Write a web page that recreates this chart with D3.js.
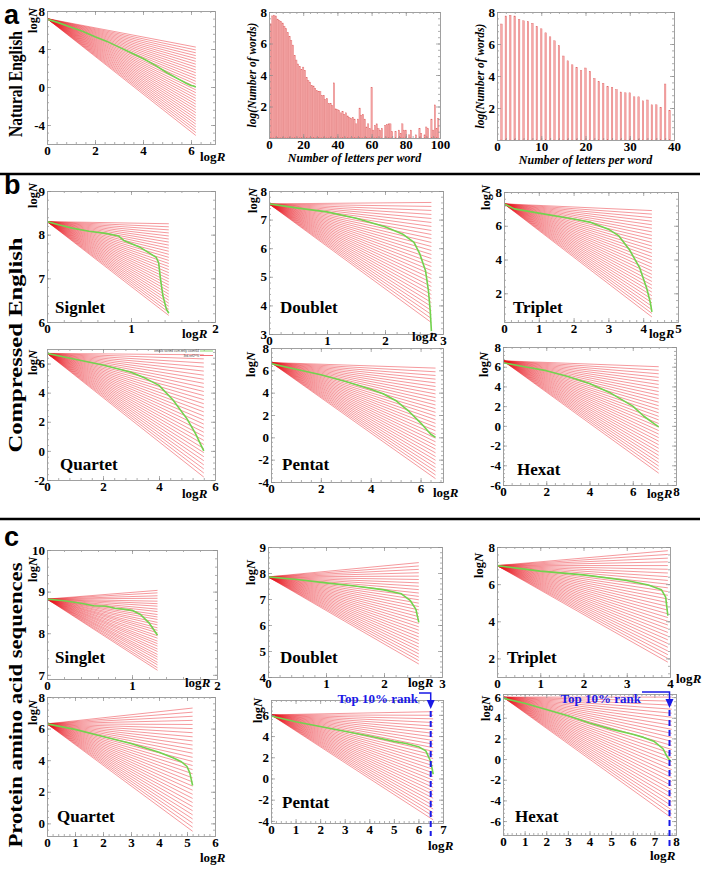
<!DOCTYPE html>
<html><head><meta charset="utf-8">
<script src="https://cdn.jsdelivr.net/npm/d3@7"></script>
<style>body{margin:0;background:#fff}svg{display:block}</style>
</head><body><svg id="c" width="704" height="872"></svg>
<script>
// ---------------- DATA ----------------
// histogram: log(number of words) for word lengths 1..100
const wordLengths = d3.range(1, 101);
const logWordCounts = [7.25,7.75,7.8,7.75,7.55,7.45,7.4,7.3,7.1,6.95,6.7,6.45,6.2,5.9,5.25,4.95,4.7,4.55,4.35,4.5,
  4.3,3.85,3.65,3.55,3.35,3.3,3.15,3.0,2.95,2.95,2.7,2.7,2.45,2.5,2.2,2.2,2.05,3.5,1.85,1.8,
  1.75,1.6,1.7,1.5,1.6,1.4,1.3,1.25,1.3,1.2,0.9,1.2,1.9,1.45,1.5,1.2,0.7,0.9,0.6,3.2,
  0.5,0.8,0.9,0.6,0.5,0.6,0,0.8,0.85,0.9,0.9,0.4,0,0.4,0,0.5,0.3,0.9,0.5,0.5,
  0,0.2,0.5,0,0,0.2,0,0.6,0.3,0,0.2,0.7,0.6,0,1.2,0.5,2.1,0.6,1.25,0];
const histTicksX100 = [0,20,40,60,80,100];
const histTicksX40 = [0,10,20,30,40];
const histTicksY = [2,4,6,8];

// fan endpoints (logN at the last rank) for each rank-frequency panel
const fanNatural = [4.2,3.9,3.6,3.3,3.0,2.7,2.4,2.1,1.8,1.5,1.2,0.9,0.6,0.3,0,-0.3,-0.6,-0.9,-1.2,-1.5,-1.8,-2.1,-2.4,-2.7,-3.0,-3.3,-3.6,-3.9,-4.2,-4.5,-4.8,-5.1];
const fanBSinglet = [8.25,8.18,8.11,8.04,7.97,7.90,7.83,7.76,7.69,7.62,7.55,7.48,7.41,7.34,7.27,7.20,7.13,7.06,6.99,6.92,6.85,6.78,6.71,6.64,6.57,6.50,6.43,6.36,6.29,6.22,6.15];
const fanBDoublet = [7.6,7.46,7.32,7.18,7.04,6.9,6.76,6.62,6.48,6.34,6.2,6.06,5.92,5.78,5.64,5.5,5.36,5.22,5.08,4.94,4.8,4.66,4.52,4.38,4.24,4.1,3.96,3.82,3.68,3.54,3.4];
const fanBTriplet = [6.9,6.69,6.48,6.27,6.06,5.85,5.64,5.43,5.22,5.01,4.8,4.59,4.38,4.17,3.96,3.75,3.54,3.33,3.12,2.91,2.7,2.49,2.28,2.07,1.86,1.65,1.44,1.23,1.02,0.81,0.6];
const fanBQuartet = [6.6,6.32,6.04,5.76,5.48,5.2,4.92,4.64,4.36,4.08,3.8,3.52,3.24,2.96,2.68,2.4,2.12,1.84,1.56,1.28,1.0,0.72,0.44,0.16,-0.12,-0.4,-0.68,-0.96,-1.24,-1.52,-1.8];
const fanBPentat = [6.2,5.87,5.54,5.21,4.88,4.55,4.22,3.89,3.56,3.23,2.9,2.57,2.24,1.91,1.58,1.25,0.92,0.59,0.26,-0.07,-0.4,-0.73,-1.06,-1.39,-1.72,-2.05,-2.38,-2.71,-3.04,-3.37,-3.7];
const fanBHexat = [6.0,5.64,5.28,4.92,4.56,4.2,3.84,3.48,3.12,2.76,2.4,2.04,1.68,1.32,0.96,0.6,0.24,-0.12,-0.48,-0.84,-1.2,-1.56,-1.92,-2.28,-2.64,-3.0,-3.36,-3.72,-4.08,-4.44,-4.8];
const fanCSinglet = [9.03,8.97,8.9,8.84,8.77,8.71,8.65,8.58,8.52,8.45,8.39,8.33,8.26,8.2,8.13,8.07,8.01,7.94,7.88,7.81,7.75,7.69,7.62,7.56,7.49,7.43,7.37,7.3,7.24,7.17,7.11];
const fanCDoublet = [8.4,8.27,8.14,8.01,7.88,7.75,7.62,7.49,7.36,7.23,7.1,6.97,6.84,6.71,6.58,6.45,6.32,6.19,6.06,5.93,5.8,5.67,5.54,5.41,5.28,5.15,5.02,4.89,4.76,4.63,4.5];
const fanCTriplet = [7.8,7.6,7.4,7.2,7.0,6.8,6.6,6.4,6.2,6.0,5.8,5.6,5.4,5.2,5.0,4.8,4.6,4.4,4.2,4.0,3.8,3.6,3.4,3.2,3.0,2.8,2.6,2.4,2.2,2.0,1.8];
const fanCQuartet = [7.3,7.04,6.78,6.52,6.26,6.0,5.74,5.48,5.22,4.96,4.7,4.44,4.18,3.92,3.66,3.4,3.14,2.88,2.62,2.36,2.1,1.84,1.58,1.32,1.06,0.8,0.54,0.28,0.02,-0.24,-0.5];
const fanCPentat = [6.3,5.96,5.62,5.28,4.94,4.6,4.26,3.92,3.58,3.24,2.9,2.56,2.22,1.88,1.54,1.2,0.86,0.52,0.18,-0.16,-0.5,-0.84,-1.18,-1.52,-1.86,-2.2,-2.54,-2.88,-3.22,-3.56,-3.9];
const fanCHexat = [6.0,5.61,5.22,4.83,4.44,4.05,3.66,3.27,2.88,2.49,2.1,1.71,1.32,0.93,0.54,0.15,-0.24,-0.63,-1.02,-1.41,-1.8,-2.19,-2.58,-2.97,-3.36,-3.75,-4.14,-4.53,-4.92,-5.31,-5.7];

// measured rank-frequency curves [logR, logN]
const curveNatural = [[0,7.15],[0.5,6.75],[1,6.3],[1.5,5.85],[2,5.3],[2.5,4.8],[3,4.2],[3.5,3.6],[4,3.0],[4.5,2.3],[5,1.5],[5.5,0.8],[5.8,0.4],[6.0,0.15],[6.1,0.1],[6.2,0]];
const curveBSinglet = [[0,8.3],[0.15,8.22],[0.3,8.15],[0.5,8.08],[0.7,8.03],[0.85,7.97],[0.92,7.86],[1.0,7.8],[1.1,7.72],[1.2,7.6],[1.3,7.48],[1.33,7.35],[1.35,7.0],[1.38,6.6],[1.42,6.3],[1.45,6.2]];
const curveBDoublet = [[0,7.55],[0.5,7.4],[1,7.27],[1.5,7.05],[2,6.75],[2.3,6.5],[2.5,6.2],[2.6,5.8],[2.7,5.2],[2.75,4.5],[2.78,3.8],[2.8,3.1]];
const curveBTriplet = [[0,7.3],[0.3,7.0],[1,6.75],[2,6.4],[2.5,6.2],[3,5.8],[3.3,5.4],[3.6,4.6],[3.9,3.5],[4.1,2.3],[4.2,1.5],[4.25,0.9]];
const curveBQuartet = [[0,6.7],[1,6.3],[2,5.9],[3,5.4],[3.5,5.0],[4,4.5],[4.5,3.5],[5,2.2],[5.3,1.2],[5.5,0.4],[5.6,0.0]];
const curveBPentat = [[0,6.6],[1,6.1],[2,5.6],[3,5.0],[4,4.3],[4.5,3.9],[5,3.3],[5.5,2.4],[6,1.3],[6.4,0.3],[6.6,0]];
const curveBHexat = [[0,6.4],[1,6.0],[2,5.6],[3,5.0],[4,4.3],[5,3.3],[6,2.0],[6.5,1.0],[7,0.2],[7.2,-0.1]];
const curveCSinglet = [[0,8.82],[0.2,8.78],[0.4,8.72],[0.55,8.66],[0.7,8.65],[0.8,8.6],[0.9,8.58],[1.0,8.55],[1.1,8.45],[1.2,8.25],[1.25,8.1],[1.3,7.95]];
const curveCDoublet = [[0,7.85],[0.5,7.75],[1,7.62],[1.5,7.5],[2,7.35],[2.3,7.2],[2.45,6.95],[2.55,6.6],[2.6,6.1]];
const curveCTriplet = [[0,7.0],[0.5,6.85],[1,6.7],[2,6.5],[3,6.2],[3.5,5.95],[3.8,5.7],[3.9,5.3],[3.95,4.3]];
const curveCQuartet = [[0,6.3],[1,5.95],[2,5.5],[3,5.05],[4,4.5],[4.5,4.15],[4.8,3.9],[5.0,3.6],[5.1,3.2],[5.15,2.8],[5.2,2.4]];
const curveCPentat = [[0,5.9],[1,5.35],[2,4.9],[3,4.45],[4,4.0],[5,3.5],[5.5,3.3],[6,3.0],[6.3,2.6],[6.5,1.6],[6.6,0.4]];
const curveCHexat = [[0,5.9],[1,5.4],[2,4.8],[3,4.2],[4,3.5],[5,2.9],[6,2.4],[6.5,2.1],[7,1.7],[7.4,1.0],[7.6,0.2],[7.75,-0.2]];

// top-10% rank markers (logR)
const top10Pentat = 6.5;
const top10Hexat = 7.7;

// ---------------- PANEL DEFINITIONS ----------------
const panels = [
 {id:'aN', fan:fanNatural, origin:7.2, xEnd:6.2, curve:curveNatural, xd:[0,7], yd:[-6,8], xt:[0,2,4,6], yt:[-4,0,4,8]},
 {id:'bS', fan:fanBSinglet, origin:8.3, xEnd:1.45, curve:curveBSinglet, xd:[0,2], yd:[6,9], xt:[0,1,2], yt:[6,7,8,9], name:'Signlet'},
 {id:'bD', fan:fanBDoublet, origin:7.55, xEnd:2.8, curve:curveBDoublet, xd:[0,3], yd:[3,8], xt:[0,1,2,3], yt:[3,4,5,6,7,8], name:'Doublet'},
 {id:'bT', fan:fanBTriplet, origin:7.3, xEnd:4.25, curve:curveBTriplet, xd:[0,5], yd:[0.3,8], xt:[0,1,2,3,4,5], yt:[2,4,6,8], name:'Triplet'},
 {id:'bQ', fan:fanBQuartet, origin:6.7, xEnd:5.6, curve:curveBQuartet, xd:[0,6], yd:[-2,7], xt:[0,2,4,6], yt:[-2,0,2,4,6], name:'Quartet', legend:true},
 {id:'bP', fan:fanBPentat, origin:6.7, xEnd:6.6, curve:curveBPentat, xd:[0,6.9], yd:[-4,8], xt:[0,2,4,6], yt:[-4,-2,0,2,4,6,8], name:'Pentat'},
 {id:'bH', fan:fanBHexat, origin:6.6, xEnd:7.2, curve:curveBHexat, xd:[0,8], yd:[-6,8], xt:[0,2,4,6,8], yt:[-6,-4,-2,0,2,4,6,8], name:'Hexat'},
 {id:'cS', fan:fanCSinglet, origin:8.82, xEnd:1.3, curve:curveCSinglet, xd:[0,2], yd:[6.9,10], xt:[0,1,2], yt:[7,8,9,10], name:'Singlet'},
 {id:'cD', fan:fanCDoublet, origin:7.85, xEnd:2.6, curve:curveCDoublet, xd:[0,3], yd:[4,9], xt:[0,1,2,3], yt:[4,5,6,7,8,9], name:'Doublet'},
 {id:'cT', fan:fanCTriplet, origin:7.0, xEnd:3.95, curve:curveCTriplet, xd:[0,4], yd:[1,8], xt:[0,1,2,3,4], yt:[2,4,6,8], name:'Triplet'},
 {id:'cQ', fan:fanCQuartet, origin:6.3, xEnd:5.2, curve:curveCQuartet, xd:[0,6], yd:[-0.8,8], xt:[0,1,2,3,4,5,6], yt:[0,2,4,6,8], name:'Quartet'},
 {id:'cP', fan:fanCPentat, origin:6.0, xEnd:6.6, curve:curveCPentat, xd:[0,7], yd:[-4.2,7.4], xt:[0,1,2,3,4,5,6,7], yt:[-4,-2,0,2,4,6], name:'Pentat', top10:top10Pentat},
 {id:'cH', fan:fanCHexat, origin:6.0, xEnd:7.8, curve:curveCHexat, xd:[0,8], yd:[-7.35,6.3], xt:[0,1,2,3,4,5,6,7,8], yt:[-6,-4,-2,0,2,4,6], name:'Hexat', top10:top10Hexat}
];

// ---------------- LAYOUT (pixels) ----------------
const layout = {
 aN: {box:[47,215,11,144], logN:[37,8], logR:[200,161]},
 bS: {box:[47,215,191,322], logN:[37,183], logR:[182,338], lab:[55,313]},
 bD: {box:[269,443,191,334], logN:[257,188], logR:[412,341], lab:[280,313]},
 bT: {box:[504,678,192,322], logN:[490,185], logR:[649,338], lab:[513,313]},
 bQ: {box:[47,215,349,480], logN:[37,350], logR:[182,498], lab:[60,470]},
 bP: {box:[271,443,348,482], logN:[255,352], logR:[433,497], lab:[282,470]},
 bH: {box:[503,676,347,485], logN:[488,352], logR:[647,498], lab:[517,475]},
 cS: {box:[47,217,550,679], logN:[37,557], logR:[185,687], lab:[55,663]},
 cD: {box:[268,442,547,677], logN:[255,560], logR:[408,687], lab:[280,663]},
 cT: {box:[497,670,547,677], logN:[483,553], logR:[676,683], lab:[507,663]},
 cQ: {box:[47,215,697,836], logN:[37,700], logR:[200,862], lab:[57,822]},
 cP: {box:[271,443,700,823], logN:[262,698], logR:[428,850], lab:[282,808], note:[418,703,693]},
 cH: {box:[503,676,694,835], logN:[490,696], logR:[650,860], lab:[515,822], note:[641,703,692]}
};
const histLayout = {
 h100: {box:[269,440,12,138]},
 h40: {box:[497,674,12,140]}
};

// ---------------- DRAWING ----------------
const svg = d3.select('#c');
const serif = "'Liberation Serif','Times New Roman',serif";
const sans = "'Liberation Sans',Arial,sans-serif";

function minorTicks(sc, ticks) {
  const step = ticks[1] - ticks[0], m = step / 5, d = sc.domain(), out = [];
  for (let k = Math.ceil(d[0] / m - 1e-9); k * m <= d[1] + 1e-9; k++) out.push(+(k * m).toFixed(6));
  return out;
}
function styleAxis(a) {
  a.select('.domain').attr('stroke', '#a0a0a0').attr('stroke-width', 1);
  a.selectAll('.tick line').attr('stroke', '#8c8c8c').attr('stroke-width', 0.7);
  a.selectAll('text').attr('font-family', serif).attr('font-weight', 'bold')
    .attr('font-size', 13).attr('fill', '#000');
}
function frame(g, x, y, xt, yt) {
  const [x0, x1] = x.range(), [y1, y0] = y.range();
  const fmt = d => String(d);
  g.append('g').attr('transform', `translate(0,${y1})`).call(d3.axisBottom(x).tickValues(minorTicks(x, xt)).tickSizeInner(-2).tickSizeOuter(0).tickFormat('')).call(styleAxis);
  g.append('g').attr('transform', `translate(0,${y0})`).call(d3.axisTop(x).tickValues(minorTicks(x, xt)).tickSizeInner(-2).tickSizeOuter(0).tickFormat('')).call(styleAxis);
  g.append('g').attr('transform', `translate(${x0},0)`).call(d3.axisLeft(y).tickValues(minorTicks(y, yt)).tickSizeInner(-2).tickSizeOuter(0).tickFormat('')).call(styleAxis);
  g.append('g').attr('transform', `translate(${x1},0)`).call(d3.axisRight(y).tickValues(minorTicks(y, yt)).tickSizeInner(-2).tickSizeOuter(0).tickFormat('')).call(styleAxis);
  g.append('g').attr('transform', `translate(0,${y1})`).call(d3.axisBottom(x).tickValues(xt).tickSizeInner(-4).tickSizeOuter(0).tickPadding(2).tickFormat(fmt)).call(styleAxis);
  g.append('g').attr('transform', `translate(0,${y0})`).call(d3.axisTop(x).tickValues(xt).tickSizeInner(-4).tickSizeOuter(0).tickFormat('')).call(styleAxis);
  g.append('g').attr('transform', `translate(${x0},0)`).call(d3.axisLeft(y).tickValues(yt).tickSizeInner(-4).tickSizeOuter(0).tickPadding(2).tickFormat(fmt)).call(styleAxis);
  g.append('g').attr('transform', `translate(${x1},0)`).call(d3.axisRight(y).tickValues(yt).tickSizeInner(-4).tickSizeOuter(0).tickFormat('')).call(styleAxis);
}

let clipN = 0;
function drawFan(p) {
  const L = layout[p.id];
  const [x0, x1, y0, y1] = L.box;
  const x = d3.scaleLinear().domain(p.xd).range([x0, x1]);
  const y = d3.scaleLinear().domain(p.yd).range([y1, y0]);
  const g = svg.append('g');
  const cid = 'clip' + (clipN++);
  g.append('clipPath').attr('id', cid).append('rect').attr('x', x0).attr('y', y0).attr('width', x1 - x0).attr('height', y1 - y0);
  const plot = g.append('g').attr('clip-path', `url(#${cid})`);
  const line = d3.line().x(d => x(d[0])).y(d => y(d[1]));
  plot.append('g').selectAll('path').data(p.fan).join('path')
    .attr('d', e => line([[0, p.origin], [p.xEnd, e]]))
    .attr('fill', 'none').attr('stroke', '#e8141e').attr('stroke-width', 0.55).attr('stroke-opacity', 0.8);
  plot.append('path').datum(p.curve).attr('d', line)
    .attr('fill', 'none').attr('stroke', '#72d34e').attr('stroke-width', 1.6).attr('stroke-linejoin', 'round');
  frame(g, x, y, p.xt, p.yt);
  const tN = g.append('text').attr('transform', `translate(${L.logN[0]},${L.logN[1]}) rotate(-90)`)
    .attr('text-anchor', 'end').attr('font-family', serif).attr('font-weight', 'bold').attr('font-size', 12.5);
  tN.append('tspan').text('log');
  tN.append('tspan').attr('font-style', 'italic').text('N');
  const tR = g.append('text').attr('x', L.logR[0]).attr('y', L.logR[1])
    .attr('font-family', serif).attr('font-weight', 'bold').attr('font-size', 13);
  tR.append('tspan').text('log');
  tR.append('tspan').attr('font-style', 'italic').text('R');
  if (p.name) {
    g.append('text').attr('x', L.lab[0]).attr('y', L.lab[1]).text(p.name)
      .attr('font-family', serif).attr('font-weight', 'bold').attr('font-size', 17);
  }
  if (p.legend) {
    const lg = g.append('g').attr('font-family', sans).attr('font-size', 3.2).attr('fill', '#444');
    lg.append('text').attr('x', 199).attr('y', 352).attr('text-anchor', 'end').text('emailx sorted cum.only count64');
    lg.append('text').attr('x', 199).attr('y', 356.5).attr('text-anchor', 'end').text('3rd-ref2^%');
    lg.append('line').attr('x1', 200).attr('x2', 213).attr('y1', 351).attr('y2', 351).attr('stroke', '#72d34e').attr('stroke-width', 0.8);
    lg.append('line').attr('x1', 200).attr('x2', 213).attr('y1', 355.5).attr('y2', 355.5).attr('stroke', '#e8141e').attr('stroke-width', 0.6);
  }
  if (p.top10 !== undefined) {
    const xv = x(p.top10);
    const [tx, ty, by] = L.note;
    const blue = '#1a1ae6';
    g.append('line').attr('x1', xv).attr('x2', xv).attr('y1', by + 18).attr('y2', y1 + 13)
      .attr('stroke', blue).attr('stroke-width', 2).attr('stroke-dasharray', '6,4');
    g.append('path').attr('d', `M${tx + 1},${by}H${xv}V${by + 8}`).attr('fill', 'none').attr('stroke', blue).attr('stroke-width', 1.5);
    g.append('path').attr('d', `M${xv - 4},${by + 7}L${xv + 4},${by + 7}L${xv},${by + 16}Z`).attr('fill', blue);
    g.append('text').attr('x', tx).attr('y', ty).attr('text-anchor', 'end').text('Top 10% rank')
      .attr('font-family', serif).attr('font-weight', 'bold').attr('font-size', 13).attr('fill', blue);
  }
}

function drawHist(key, xdom, xt, vals, barW) {
  const L = histLayout[key];
  const [x0, x1, y0, y1] = L.box;
  const x = d3.scaleLinear().domain(xdom).range([x0, x1]);
  const y = d3.scaleLinear().domain([0, 8]).range([y1, y0]);
  const g = svg.append('g');
  const data = wordLengths.map((len, i) => ({len, v: vals[i]})).filter(d => d.len < xdom[1]);
  g.append('g').selectAll('rect').data(data).join('rect')
    .attr('x', d => x(d.len - barW / 2)).attr('width', x(barW) - x(0))
    .attr('y', d => y(d.v)).attr('height', d => y(0) - y(d.v))
    .attr('fill', '#f6a9a9').attr('stroke', '#e06a6a').attr('stroke-width', 0.4);
  frame(g, x, y, xt, histTicksY);
  g.append('text').attr('transform', `translate(${x0 - 13},${(y0 + y1) / 2}) rotate(-90)`)
    .attr('text-anchor', 'middle').attr('font-family', serif).attr('font-weight', 'bold').attr('font-style', 'italic')
    .attr('font-size', 11.5).text('log(Number of words)');
  g.append('text').attr('x', (x0 + x1) / 2).attr('y', y1 + 24).attr('text-anchor', 'middle')
    .attr('font-family', serif).attr('font-weight', 'bold').attr('font-style', 'italic')
    .attr('font-size', 12).text('Number of letters per word');
}

panels.forEach(drawFan);
drawHist('h100', [0, 100], histTicksX100, logWordCounts, 0.75);
drawHist('h40', [0, 40], histTicksX40, logWordCounts, 0.35);

const rowTitle = (txt, cx, cy, len) => svg.append('text')
  .attr('transform', `translate(${cx},${cy}) rotate(-90)`).attr('text-anchor', 'middle')
  .attr('font-family', serif).attr('font-weight', 'bold').attr('font-size', 19)
  .attr('textLength', len).attr('lengthAdjust', 'spacingAndGlyphs').text(txt);
rowTitle('Natural English', 22, 84, 106);
rowTitle('Compressed English', 22, 345, 215);
rowTitle('Protein amino acid sequences', 22, 705, 285);

const letter = (t, x, y) => svg.append('text').attr('x', x).attr('y', y).text(t)
  .attr('font-family', sans).attr('font-weight', 'bold').attr('font-size', 27);
letter('a', 4, 24); letter('b', 4, 194); letter('c', 4, 546);

svg.append('line').attr('x1', 0).attr('x2', 700).attr('y1', 174).attr('y2', 174).attr('stroke', '#000').attr('stroke-width', 2.5);
svg.append('line').attr('x1', 0).attr('x2', 700).attr('y1', 519).attr('y2', 519).attr('stroke', '#000').attr('stroke-width', 2.5);
</script>
</body></html>
